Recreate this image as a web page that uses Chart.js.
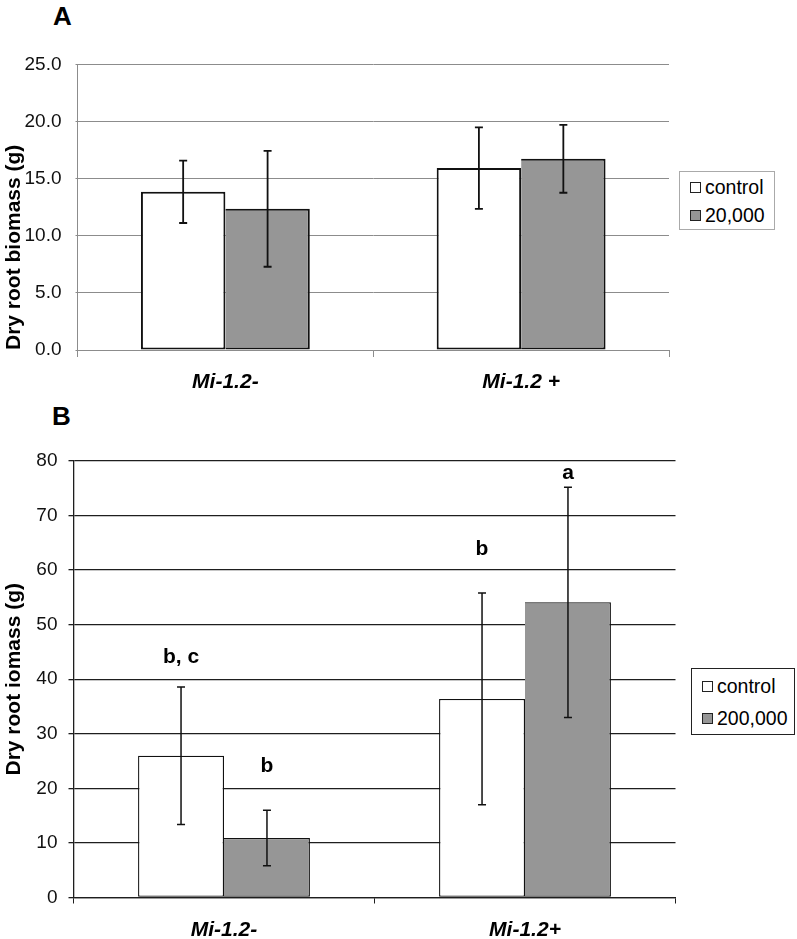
<!DOCTYPE html>
<html>
<head>
<meta charset="utf-8">
<script src="https://cdn.jsdelivr.net/npm/chart.js@4.4.1/dist/chart.umd.min.js"></script>
<style>
    html, body { margin: 0; padding: 0; background: #fff; }
    body { width: 797px; height: 939px; position: relative; overflow: hidden;
           font-family: "Liberation Sans", Arial, sans-serif; }
    .panel { position: absolute; left: 0; width: 797px; }
    .letter { position: absolute; font-weight: bold; font-size: 26px; line-height: 1; }
    .legend { position: absolute; background: #fff; box-sizing: border-box; font-size: 19.5px; }
    .legend .row { position: absolute; left: 10px; display: flex; align-items: center; height: 22px; }
    .legend .sw { width: 9px; height: 9px; border: 1px solid #222; margin-right: 4px; }
</style>
</head>
<body>

<div class="letter" style="left:53px; top:3px;">A</div>
<div class="panel" style="top:0; height:390px;"><canvas id="chartA" width="797" height="390"></canvas></div>
<div class="legend" style="left:679px; top:171px; width:96px; height:59px; border:1px solid #aaa;">
    <div class="row" style="top:4px;"><span class="sw" style="background:#fff"></span>control</div>
    <div class="row" style="top:32px;"><span class="sw" style="background:#969696"></span>20,000</div>
</div>

<div class="letter" style="left:52px; top:403px;">B</div>
<div class="panel" style="top:390px; height:549px;"><canvas id="chartB" width="797" height="549"></canvas></div>
<div class="legend" style="left:691px; top:668px; width:104px; height:67px; border:1px solid #222;">
    <div class="row" style="top:6px;"><span class="sw" style="background:#fff"></span>control</div>
    <div class="row" style="top:38px;"><span class="sw" style="background:#969696"></span>200,000</div>
</div>

<script>
// ---- Panel A data ----
const categoriesA = ['Mi-1.2-', 'Mi-1.2 +'];
const controlA = [13.85, 15.93];
const controlErrA = [2.73, 3.57];
const treatA = [12.36, 16.74];
const treatErrA = [5.07, 2.97];

// ---- Panel B data ----
const categoriesB = ['Mi-1.2-', 'Mi-1.2+'];
const controlB = [26.0, 36.4];
const controlErrB = [12.6, 19.4];
const treatB = [10.9, 54.1];
const treatErrB = [5.1, 21.1];
// significance letters and the value they sit at
const lettersControlB = ['b, c', 'b'];
const letterPosControlB = [44.1, 63.9];
const lettersTreatB = ['b', 'a'];
const letterPosTreatB = [24.0, 77.7];

const FONT = '"Liberation Sans", Arial, sans-serif';
const GREY = '#969696';

Chart.defaults.font.family = FONT;
Chart.defaults.color = '#111';
Chart.defaults.animation = false;

// Draws +/- error bars from dataset.errors
const errorBarPlugin = {
    id: 'errorBars',
    afterDatasetsDraw(chart) {
        const ctx = chart.ctx;
        const y = chart.scales.y;
        chart.data.datasets.forEach((ds, i) => {
            if (!ds.errors) return;
            const meta = chart.getDatasetMeta(i);
            meta.data.forEach((bar, j) => {
                const v = ds.data[j], e = ds.errors[j];
                const top = y.getPixelForValue(v + e);
                const bot = y.getPixelForValue(v - e);
                ctx.save();
                ctx.strokeStyle = '#111';
                ctx.lineWidth = ds.errWidth || 1.6;
                ctx.beginPath();
                ctx.moveTo(bar.x, top); ctx.lineTo(bar.x, bot);
                ctx.moveTo(bar.x - 4, top); ctx.lineTo(bar.x + 4, top);
                ctx.moveTo(bar.x - 4, bot); ctx.lineTo(bar.x + 4, bot);
                ctx.stroke();
                ctx.restore();
            });
        });
    }
};

// Draws significance letters from dataset.letters / dataset.letterPos
const letterPlugin = {
    id: 'sigLetters',
    afterDatasetsDraw(chart) {
        const ctx = chart.ctx;
        const y = chart.scales.y;
        chart.data.datasets.forEach((ds, i) => {
            if (!ds.letters) return;
            const meta = chart.getDatasetMeta(i);
            meta.data.forEach((bar, j) => {
                ctx.save();
                ctx.fillStyle = '#000';
                ctx.font = 'bold 21px ' + FONT;
                ctx.textAlign = 'center';
                ctx.textBaseline = 'middle';
                ctx.fillText(ds.letters[j], bar.x, y.getPixelForValue(ds.letterPos[j]));
                ctx.restore();
            });
        });
    }
};

function makeChart(canvas, cfg) {
    const datasets = [
        {
            label: 'control',
            data: cfg.control,
            errors: cfg.controlErr,
            letters: cfg.lettersControl,
            letterPos: cfg.letterPosControl,
            backgroundColor: '#fff',
            borderColor: '#111',
            borderWidth: cfg.barBorder,
            borderSkipped: false,
            inflateAmount: 0,
            errWidth: cfg.errWidth
        },
        {
            label: cfg.treatLabel,
            data: cfg.treat,
            errors: cfg.treatErr,
            letters: cfg.lettersTreat,
            letterPos: cfg.letterPosTreat,
            backgroundColor: GREY,
            borderColor: '#111',
            borderWidth: cfg.barBorder,
            borderSkipped: 'left', // shares the control bar's right edge
            inflateAmount: 0,
            errWidth: cfg.errWidth
        }
    ];

    return new Chart(canvas.getContext('2d'), {
        type: 'bar',
        data: { labels: cfg.labels, datasets },
        options: {
            responsive: false,
            layout: { padding: cfg.padding },
            datasets: { bar: { categoryPercentage: 0.571, barPercentage: 1 } },
            plugins: { legend: { display: false }, tooltip: { enabled: false } },
            scales: {
                x: {
                    grid: {
                        offset: true,
                        drawOnChartArea: false,
                        drawTicks: true,
                        tickLength: cfg.xTick,
                        color: cfg.axisColor
                    },
                    border: { color: cfg.axisColor, width: cfg.gridWidth },
                    ticks: {
                        padding: cfg.xPad,
                        color: '#000',
                        font: { size: 21, weight: 'bold', style: 'italic' }
                    },
                    afterFit: s => { s.height = cfg.xHeight; }
                },
                y: {
                    min: 0,
                    max: cfg.max,
                    ticks: {
                        stepSize: cfg.step,
                        padding: cfg.yPad,
                        color: '#111',
                        font: { size: 19 },
                        callback: v => cfg.decimals ? v.toFixed(1) : String(v)
                    },
                    grid: {
                        color: cfg.gridColor,
                        lineWidth: cfg.gridWidth,
                        tickLength: cfg.yTick
                    },
                    border: { color: cfg.axisColor, width: cfg.gridWidth },
                    title: {
                        display: true,
                        text: cfg.yTitle,
                        align: cfg.titleAlign,
                        color: '#000',
                        font: { size: 21, weight: 'bold' },
                        padding: { top: 2, bottom: 0 }
                    },
                    afterFit: s => { s.width = cfg.yWidth; }
                }
            }
        },
        plugins: [errorBarPlugin, letterPlugin]
    });
}

makeChart(document.getElementById('chartA'), {
    labels: categoriesA,
    control: controlA, controlErr: controlErrA,
    treat: treatA, treatErr: treatErrA,
    treatLabel: '20,000',
    max: 25, step: 5, decimals: true,
    yTitle: 'Dry root biomass (g)',
    titleAlign: 'start',
    padding: { top: 64.5, right: 128, left: 0, bottom: 0 },
    yWidth: 77.5, xHeight: 40,
    gridColor: '#8c8c8c', axisColor: '#8c8c8c', gridWidth: 1,
    xTick: 7, yTick: 2, xPad: 13, yPad: 14,
    barBorder: 2, errWidth: 1.8
});

makeChart(document.getElementById('chartB'), {
    labels: categoriesB,
    control: controlB, controlErr: controlErrB,
    treat: treatB, treatErr: treatErrB,
    lettersControl: lettersControlB, letterPosControl: letterPosControlB,
    lettersTreat: lettersTreatB, letterPosTreat: letterPosTreatB,
    treatLabel: '200,000',
    max: 80, step: 10, decimals: false,
    yTitle: 'Dry root iomass (g)',
    titleAlign: 'center',
    padding: { top: 71, right: 121.5, left: 0, bottom: 0 },
    yWidth: 73.5, xHeight: 41.5,
    gridColor: '#1e1e1e', axisColor: '#1e1e1e', gridWidth: 1.3,
    xTick: 6, yTick: 5, xPad: 14, yPad: 11,
    barBorder: 1.3, errWidth: 1.5
});
</script>
</body>
</html>
